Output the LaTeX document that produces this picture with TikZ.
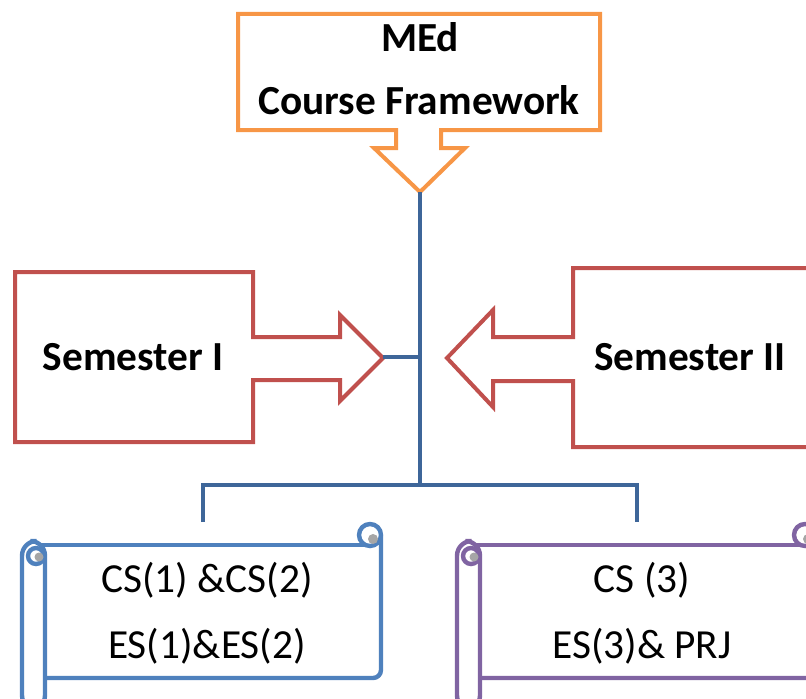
\documentclass[tikz,border=0pt]{standalone}
\usepackage{fontspec}
\setmainfont{Carlito}
\usetikzlibrary{positioning,calc}
\definecolor{medorange}{HTML}{F79646}
\definecolor{semred}{HTML}{C0504D}
\definecolor{treeblue}{HTML}{3E6699}
\definecolor{scrollblue}{HTML}{4F81BD}
\definecolor{scrollpurple}{HTML}{8064A2}
\definecolor{curlgray}{HTML}{A6A6A6}
\tikzset{
  callout/.style = {line width=3pt, line join=miter, fill=white},
  scroll/.style  = {line width=3.3pt, fill=white},
  tree/.style    = {treeblue, line width=3.3pt},
  title/.style   = {font=\fontsize{31}{37}\selectfont\bfseries, anchor=base, inner sep=0pt},
  item/.style    = {font=\fontsize{31}{37}\selectfont, anchor=base, inner sep=0pt},
}

\begin{document}
\begin{tikzpicture}[x=0.75pt, y=-0.75pt]

  \useasboundingbox (0,0) rectangle (806,699);
  \clip (0,0) rectangle (806,699);

  % callout boxes
  \draw[callout, draw=medorange] (238,14) -- (600,14) -- (600,130) -- (441,130) -- (441,148)
    -- (465,148) -- (420,192) -- (374,148) -- (396,148) -- (396,130) -- (238,130) -- cycle;
  \draw[callout, draw=semred] (15,272) -- (253,272) -- (253,337) -- (340,337) -- (340,315)
    -- (383,358) -- (340,401) -- (340,380) -- (253,380) -- (253,442) -- (15,442) -- cycle;
  \draw[callout, draw=semred] (815,268) -- (573,268) -- (573,337) -- (493,337) -- (493,310)
    -- (447,358) -- (493,407) -- (493,381) -- (573,381) -- (573,447) -- (815,447);

  \node[title] (med)  at (420,52)  {MEd};
  \node[title] (cf)   at (419,114) {Course Framework};
  \node[title] (sem1) at (133,370) {Semester I};
  \node[title] (sem2) at (690,370) {Semester II};

  % scrolls
  \foreach \dx/\col in {0/scrollblue, 435/scrollpurple} {
    \begin{scope}[shift={(\dx,0)}]
      \draw[scroll, draw=\col, rounded corners=6] (45,678) -- (381,678) -- (381,536);
      \draw[scroll, draw=\col] (36,545) -- (370,545);
      \draw[scroll, draw=\col] (370,535) circle[radius=11];
      \fill[curlgray] (373,539) circle[radius=5];
      \draw[scroll, draw=\col, rounded corners=11] (22,710) rectangle (45,541);
      \draw[scroll, draw=\col] (36,556) circle[radius=8];
      \fill[curlgray] (39,557) circle[radius=4.5];
    \end{scope}
  }

  \node[item] (cs12) at (207,592) {CS(1) \&CS(2)};
  \node[item] (es12) at (207,658) {ES(1)\&ES(2)};
  \node[item] (cs3)  at (642,592) {CS (3)};
  \node[item] (es3)  at (642,658) {ES(3)\& PRJ};

  % connector tree
  \coordinate (medtip) at (420,192);
  \coordinate (s1tip)  at (383,357);
  \coordinate (hub)    at (420,357);
  \coordinate (fork)   at (420,485);
  \coordinate (lfork)  at (203,485);
  \coordinate (rfork)  at (637,485);
  \coordinate (ldrop)  at (203,522);
  \coordinate (rdrop)  at (637,522);

  \draw[tree] (medtip) -- (fork);
  \draw[tree] (hub) -- (s1tip);
  \draw[tree] (ldrop) -- (lfork) -- (rfork) -- (rdrop);

\end{tikzpicture}
\end{document}
